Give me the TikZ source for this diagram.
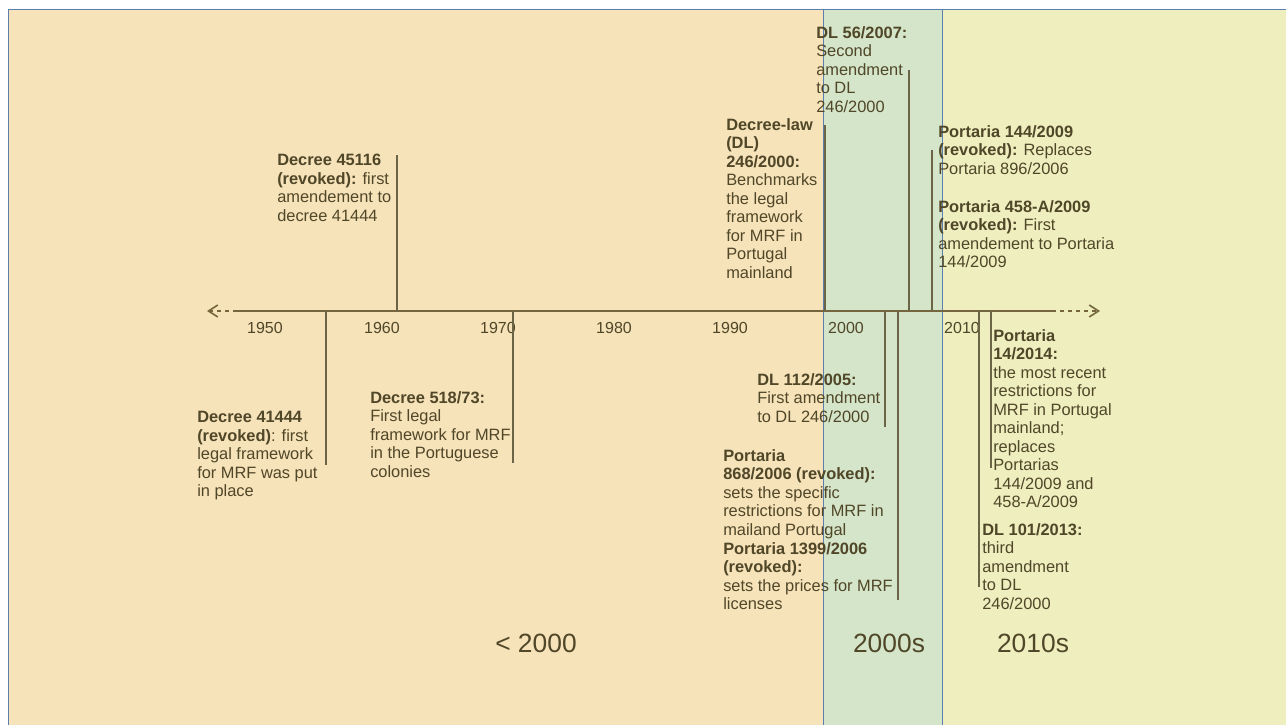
\documentclass[tikz,border=0pt]{standalone}
\usepackage{fontspec}
\setmainfont{Liberation Sans}
\usetikzlibrary{arrows.meta}
\definecolor{beigep}{HTML}{F6E3B9}
\definecolor{greenp}{HTML}{D5E5C9}
\definecolor{yellowp}{HTML}{EEEEBF}
\definecolor{bluel}{HTML}{5B7DB0}
\definecolor{txtc}{HTML}{504628}
\definecolor{axisc}{HTML}{76663F}
\definecolor{tickc}{HTML}{6C6446}
\begin{document}
\begin{tikzpicture}[x=0.75pt,y=-0.75pt,
  txt/.style={anchor=north west, inner sep=0pt, align=left, text=txtc,
    font=\fontsize{12.3}{13.9}\selectfont},
  yr/.style={anchor=center, inner sep=0pt, text=txtc,
    font=\fontsize{12.0}{13.9}\selectfont},
  era/.style={anchor=center, inner sep=0pt, text=txtc,
    font=\fontsize{19.8}{23}\selectfont},
  axisline/.style={draw=axisc, line width=1.6pt},
  tickline/.style={draw=tickc, line width=1pt},
  dasharrow/.style={draw=axisc, line width=1.2pt, dashed,
    -{Straight Barb[length=7pt,width=9pt]}},
  blueline/.style={draw=bluel, line width=0.7pt}]
\useasboundingbox (0,0) rectangle (1286,725);
\fill[white] (0,0) rectangle (1286,725);
\fill[beigep] (8,9) rectangle (823,725);
\fill[greenp] (823,9) rectangle (942,725);
\fill[yellowp] (942,9) rectangle (1286,725);
\draw[blueline] (8,725) -- (8,9) -- (1286,9);
\draw[blueline] (823,9) -- (823,725);
\draw[blueline] (942,9) -- (942,725);

% timeline
\coordinate (tlL) at (237,311);
\coordinate (tlR) at (1052,311);
\coordinate (arrL) at (207,311);
\coordinate (arrR) at (1100,311);
\draw[axisline] (tlL) -- (tlR);
\draw[dasharrow] (tlL) -- (arrL);
\draw[dasharrow] (tlR) -- (arrR);

% years
\node[yr] (y1950) at (265,328) {1950};
\node[yr] (y1960) at (382,328) {1960};
\node[yr] (y1970) at (498,328) {1970};
\node[yr] (y1980) at (614,328) {1980};
\node[yr] (y1990) at (730,328) {1990};
\node[yr] (y2000) at (846,328) {2000};
\node[yr] (y2010) at (962,328) {2010};

% ticks
\coordinate (a41444) at (326,311); \coordinate (b41444) at (326,465);
\coordinate (a45116) at (397,311); \coordinate (b45116) at (397,155);
\coordinate (a518) at (513,311); \coordinate (b518) at (513,463);
\coordinate (a246) at (825,311); \coordinate (b246) at (825,125);
\coordinate (a56) at (909,311); \coordinate (b56) at (909,70);
\coordinate (a144) at (932,311); \coordinate (b144) at (932,150);
\coordinate (a112) at (885,311); \coordinate (b112) at (885,427);
\coordinate (a868) at (898,311); \coordinate (b868) at (898,600);
\coordinate (a101) at (979,311); \coordinate (b101) at (979,587);
\coordinate (a14) at (991,311); \coordinate (b14) at (991,468);
\foreach \n in {41444,45116,518,246,56,144,112,868,101,14}
  \draw[tickline] (a\n) -- (b\n);

% texts
\node[txt] (t45116) at (277,154) {\textbf{Decree 45116}\\\textbf{(revoked):} first\\amendement to\\decree 41444};
\node[txt] (t41444) at (197,411) {\textbf{Decree 41444}\\\textbf{(revoked)}: first\\legal framework\\for MRF was put\\in place};
\node[txt] (t518) at (370,391) {\textbf{Decree 518/73:}\\First legal\\framework for MRF\\in the Portuguese\\colonies};
\node[txt] (t246) at (726,118) {\textbf{Decree-law}\\\textbf{(DL)}\\\textbf{246/2000:}\\Benchmarks\\the legal\\framework\\for MRF in\\Portugal\\mainland};
\node[txt] (t56) at (816,26) {\textbf{DL 56/2007:}\\Second\\amendment\\to DL\\246/2000};
\node[txt] (t144) at (938,125) {\textbf{Portaria 144/2009}\\\textbf{(revoked):} Replaces\\Portaria 896/2006};
\node[txt] (t458) at (938,200) {\textbf{Portaria 458-A/2009}\\\textbf{(revoked):} First\\amendement to Portaria\\144/2009};
\node[txt] (t112) at (757,373) {\textbf{DL 112/2005:}\\First amendment\\to DL 246/2000};
\node[txt] (t868) at (723,449) {\textbf{Portaria}\\\textbf{868/2006 (revoked):}\\sets the specific\\restrictions for MRF in\\mailand Portugal};
\node[txt] (t1399) at (723,542) {\textbf{Portaria 1399/2006}\\\textbf{(revoked):}\\sets the prices for MRF\\licenses};
\node[txt] (t14) at (993,329) {\textbf{Portaria}\\\textbf{14/2014:}\\the most recent\\restrictions for\\MRF in Portugal\\mainland;\\replaces\\Portarias\\144/2009 and\\458-A/2009};
\node[txt] (t101) at (982,523) {\textbf{DL 101/2013:}\\third\\amendment\\to DL\\246/2000};

% eras
\node[era] (e1) at (536,643) {< 2000};
\node[era] (e2) at (889,643) {2000s};
\node[era] (e3) at (1033,643) {2010s};
\end{tikzpicture}
\end{document}
